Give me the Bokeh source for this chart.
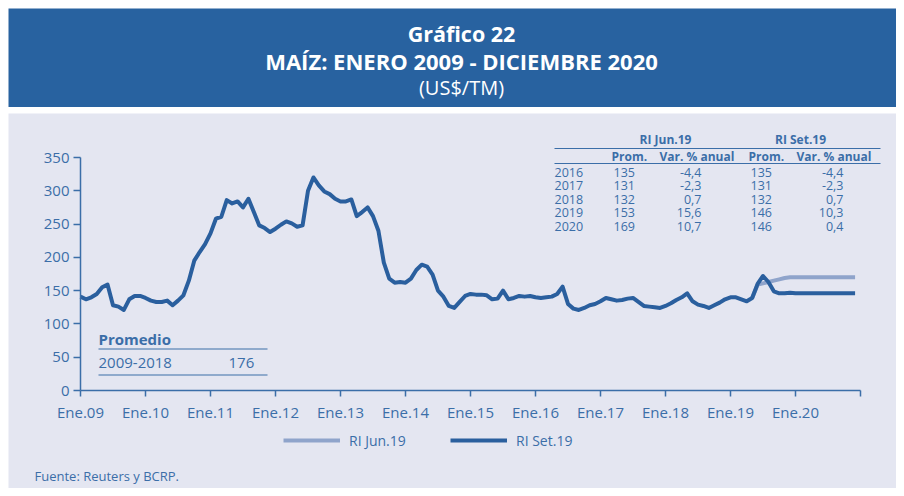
from bokeh.plotting import figure
from bokeh.models import (FixedTicker, Range1d, Label, Legend, LegendItem,
                          ColumnDataSource, Spacer)
from bokeh.layouts import column
from bokeh.core.properties import value
from bokeh.embed import file_html
from bokeh.resources import INLINE

# ---------------- data (US$/TM, monthly) ----------------
set_2009 = [141, 137, 140, 145, 155, 159, 128, 126, 121, 137, 142, 142]
set_2010 = [139, 135, 133, 133, 135, 128, 135, 143, 165, 195, 208, 220]
set_2011 = [236, 258, 261, 286, 281, 284, 275, 288, 268, 248, 244, 238]
set_2012 = [243, 249, 254, 251, 246, 248, 300, 320, 308, 299, 295, 288]
set_2013 = [284, 284, 287, 262, 268, 275, 262, 240, 192, 168, 162, 163]
set_2014 = [162, 168, 181, 189, 186, 174, 150, 141, 127, 124, 133, 142]
set_2015 = [145, 144, 144, 143, 137, 138, 150, 137, 139, 142, 141, 142]
set_2016 = [140, 139, 140, 141, 145, 156, 130, 123, 121, 124, 128, 130]
set_2017 = [134, 139, 137, 135, 136, 138, 139, 133, 127, 126, 125, 124]
set_2018 = [127, 131, 136, 140, 146, 134, 129, 127, 124, 128, 132, 137]
set_2019 = [140, 140, 137, 134, 139, 160, 172, 163, 149, 146, 146, 147]
set_2020 = [146, 146, 146, 146, 146, 146, 146, 146, 146, 146, 146, 146]

# RI Jun.19 (diverges from May 2019 on)
jun_2019_tail = [139, 159, 161, 163, 165, 167, 169, 170]   # May-Dec 2019
jun_2020 = [170, 170, 170, 170, 170, 170, 170, 170, 170, 170, 170, 170]

year_labels = ["Ene.09", "Ene.10", "Ene.11", "Ene.12", "Ene.13", "Ene.14",
               "Ene.15", "Ene.16", "Ene.17", "Ene.18", "Ene.19", "Ene.20"]
y_ticks = [0, 50, 100, 150, 200, 250, 300, 350]

tbl_years = ["2016", "2017", "2018", "2019", "2020"]
jun_prom = ["135", "131", "132", "153", "169"]
jun_var = ["-4,4", "-2,3", "0,7", "15,6", "10,7"]
set_prom = ["135", "131", "132", "146", "146"]
set_var = ["-4,4", "-2,3", "0,7", "10,3", "0,4"]

prom_period = "2009-2018"
prom_value = "176"

# ---------------- assemble ----------------
set_vals = (set_2009 + set_2010 + set_2011 + set_2012 + set_2013 + set_2014 +
            set_2015 + set_2016 + set_2017 + set_2018 + set_2019 + set_2020)
set_x = list(range(len(set_vals)))
jun_vals = jun_2019_tail + jun_2020
jun_start = len(set_vals) - len(jun_vals)
jun_x = list(range(jun_start, jun_start + len(jun_vals)))

# ---------------- styling / layout ----------------
BLUE_HDR = "#2862a0"
BG = "#e4e6f1"
TXT = "#3b6ea8"
DARK = "#2a5f9e"
LIGHT = "#8fa4cb"
FONT = "Open Sans"

W = 888
HDR_H = 99
MAIN_H = 375
OX, OY = 8, 113             # page position of the main figure's top-left
HCX = 453                   # header text centre

# header
hdr = figure(width=W, height=HDR_H, x_range=Range1d(0, W), y_range=Range1d(HDR_H, 0),
             toolbar_location=None, output_backend="svg",
             x_axis_location=None, y_axis_location=None,
             min_border=0, outline_line_color=None,
             background_fill_color=BLUE_HDR, border_fill_color=BLUE_HDR)
hdr.grid.visible = False
hdr.text(x=[HCX], y=[25], text=["Gráfico 22"], text_align="center",
         text_baseline="middle", text_color="white", text_font=value(FONT),
         text_font_style="bold", text_font_size="21.5px")
hdr.text(x=[HCX], y=[52.5], text=["MAÍZ: ENERO 2009 - DICIEMBRE 2020"], text_align="center",
         text_baseline="middle", text_color="white", text_font=value(FONT),
         text_font_style="bold", text_font_size="22px")
hdr.text(x=[HCX], y=[79], text=["(US$/TM)"], text_align="center",
         text_baseline="middle", text_color="white", text_font=value(FONT),
         text_font_size="20px")

# main chart: frame = whole canvas; axes at fixed locations
PX_X = 780 / 144.0          # px per month
PX_Y = 233 / 350.0          # px per US$

# page px -> data (axis origin on the page: x=80, y=390)
def fx(px):
    return (px - 80) / PX_X

def fy(py):
    return (390 - py) / PX_Y

p = figure(width=W, height=MAIN_H,
           x_range=Range1d(fx(OX), fx(OX + W)), y_range=Range1d(fy(OY + MAIN_H), fy(OY)),
           toolbar_location=None, output_backend="svg",
           min_border=0, outline_line_color=None,
           background_fill_color=BG, border_fill_color=BG)
p.grid.visible = False

p.xaxis.ticker = FixedTicker(ticks=[12 * k for k in range(13)])
p.xaxis.major_label_overrides = {12 * k: lab for k, lab in enumerate(year_labels)} | {144: ""}
p.xaxis.bounds = (0, 144)
p.xaxis.fixed_location = 0
p.yaxis.ticker = FixedTicker(ticks=y_ticks)
p.yaxis.bounds = (0, 350)
p.yaxis.fixed_location = 0
for ax in (p.xaxis, p.yaxis):
    ax.axis_line_color = TXT
    ax.axis_line_width = 1.5
    ax.major_tick_line_color = TXT
    ax.major_tick_line_width = 1.5
    ax.major_tick_in = 0
    ax.minor_tick_line_color = None
    ax.major_label_text_color = TXT
    ax.major_label_text_font = FONT
    ax.major_label_text_font_size = "15px"
p.xaxis.major_tick_out = 6
p.yaxis.major_tick_out = 7
p.xaxis.major_label_standoff = 5
p.yaxis.major_label_standoff = 4

r_jun = p.line(jun_x, jun_vals, line_color=LIGHT, line_width=4, line_join="round")
r_set = p.line(set_x, set_vals, line_color=DARK, line_width=4, line_join="round")

# Promedio box
p.text(x=[fx(98)], y=[fy(338)], text=["Promedio"], text_baseline="middle",
       text_color=TXT, text_font=value(FONT), text_font_style="bold", text_font_size="15px")
p.text(x=[fx(98)], y=[fy(362)], text=[prom_period], text_baseline="middle",
       text_color=TXT, text_font=value(FONT), text_font_size="15px")
p.text(x=[fx(228)], y=[fy(362)], text=[prom_value], text_baseline="middle",
       text_color=TXT, text_font=value(FONT), text_font_size="15px")
p.segment(x0=[fx(98), fx(98)], y0=[fy(348.5), fy(374.5)], x1=[fx(267), fx(267)],
          y1=[fy(348.5), fy(374.5)], line_color=TXT, line_width=1.2)

# Table
TFS = "12.5px"
p.text(x=[fx(665), fx(800)], y=[fy(139)] * 2, text=["RI Jun.19", "RI Set.19"],
       text_align="center", text_baseline="middle", text_color=TXT,
       text_font=value(FONT), text_font_style="bold", text_font_size="12px")
p.text(x=[fx(611), fx(659), fx(748), fx(796)], y=[fy(155.5)] * 4,
       text=["Prom.", "Var. % anual", "Prom.", "Var. % anual"],
       text_baseline="middle", text_color=TXT,
       text_font=value(FONT), text_font_style="bold", text_font_size="12px")
p.segment(x0=[fx(554), fx(554)], y0=[fy(148), fy(163)], x1=[fx(880), fx(880)],
          y1=[fy(148), fy(163)], line_color=TXT, line_width=1.2)
row_y = [fy(171.5 + 13.5 * k) for k in range(len(tbl_years))]
tsrc = ColumnDataSource(dict(y=row_y, yr=tbl_years, jp=jun_prom, jv=jun_var,
                             sp=set_prom, sv=set_var))
common = dict(y="y", source=tsrc, text_baseline="middle", text_color=TXT,
              text_font=value(FONT), text_font_size=TFS)
p.text(x=fx(554), text="yr", **common)
p.text(x=fx(613), text="jp", **common)
p.text(x=fx(701), text="jv", text_align="right", **common)
p.text(x=fx(750), text="sp", **common)
p.text(x=fx(843), text="sv", text_align="right", **common)

# Legend (location: bottom-left of the legend box, from the frame's bottom-left)
legend = Legend(items=[LegendItem(label="RI Jun.19", renderers=[r_jun]),
                       LegendItem(label="RI Set.19", renderers=[r_set])],
                orientation="horizontal", location=(283 - OX, OY + MAIN_H - 450),
                glyph_width=57, glyph_height=20, label_standoff=9,
                label_width=90, spacing=11, padding=0, margin=0,
                border_line_color=None, background_fill_alpha=0,
                label_text_color=TXT, label_text_font=FONT, label_text_font_size="14px")
p.add_layout(legend)

# Source
p.add_layout(Label(x=fx(34), y=fy(475), text="Fuente: Reuters y BCRP.",
                   text_baseline="middle", text_color=TXT, text_font=FONT,
                   text_font_size="13px"))

layout = column(hdr, Spacer(height=6), p, margin=(8, 8, 8, 8))
open("out.html", "w").write(file_html(layout, INLINE))
